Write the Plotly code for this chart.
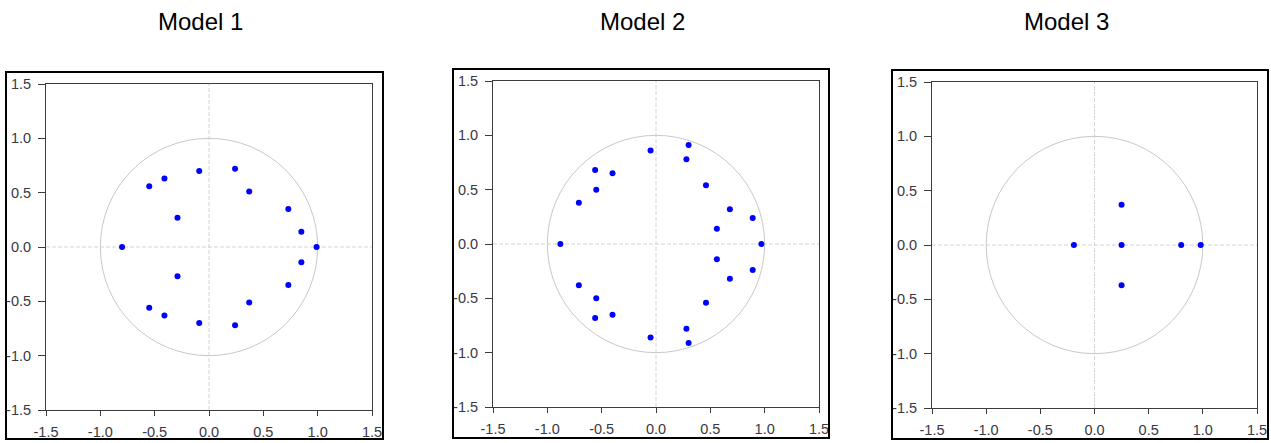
import plotly.graph_objects as go

W, H = 1271, 443

titles = ["Model 1", "Model 2", "Model 3"]

m1_re = [-0.09, 0.24, 0.37, 0.73, 0.85, 0.99, -0.80, -0.55, -0.41, -0.29,
         -0.09, 0.24, 0.37, 0.73, 0.85, -0.55, -0.41, -0.29]
m1_im = [0.70, 0.72, 0.51, 0.35, 0.14, 0.00, 0.00, 0.56, 0.63, 0.27,
         -0.70, -0.72, -0.51, -0.35, -0.14, -0.56, -0.63, -0.27]

m2_re = [-0.05, 0.30, 0.28, 0.46, 0.68, 0.89, 0.56, 0.97, -0.88, -0.71, -0.56, -0.40, -0.55,
         -0.05, 0.30, 0.28, 0.46, 0.68, 0.89, 0.56, -0.71, -0.56, -0.40, -0.55]
m2_im = [0.86, 0.91, 0.78, 0.54, 0.32, 0.24, 0.14, 0.00, 0.00, 0.38, 0.68, 0.65, 0.50,
         -0.86, -0.91, -0.78, -0.54, -0.32, -0.24, -0.14, -0.38, -0.68, -0.65, -0.50]

m3_re = [-0.19, 0.25, 0.25, 0.25, 0.80, 0.98]
m3_im = [0.00, 0.37, 0.00, -0.37, 0.00, 0.00]

tick_vals = [-1.5, -1.0, -0.5, 0.0, 0.5, 1.0, 1.5]
tick_text = ["-1.5", "-1.0", "-0.5", "0.0", "0.5", "1.0", "1.5"]

series = [(m1_re, m1_im), (m2_re, m2_im), (m3_re, m3_im)]

# pixel layout: plot areas (left, right, top, bottom) and outer frames
plot_px = [(46, 372, 84, 410), (493, 819, 81, 407), (932, 1257, 82, 408)]
frame_px = [(6, 383, 72, 439), (453, 829, 69, 438), (892, 1268, 70, 439)]
title_x = [200, 642, 1066]

fig = go.Figure()
shapes = []
annotations = []

for i, (re, im) in enumerate(series):
    n = "" if i == 0 else str(i + 1)
    xa, ya = "x" + n, "y" + n
    fig.add_trace(go.Scatter(
        x=re, y=im, mode="markers", xaxis=xa, yaxis=ya,
        marker=dict(color="#0000ff", size=6, line=dict(width=0)),
        showlegend=False, hoverinfo="x+y"))
    l, r, t, b = plot_px[i]
    axis_common = dict(
        range=[-1.5, 1.5], tickvals=tick_vals, ticktext=tick_text,
        showgrid=False, zeroline=False, showline=True, mirror=True,
        linecolor="#3c3c3c", linewidth=1, ticks="outside",
        tickcolor="#3c3c3c", tickwidth=1, automargin=False,
        tickfont=dict(family="Liberation Sans, Arial", size=14.5, color="#3a3842"),
        fixedrange=True)
    fig.layout["xaxis" + n] = dict(axis_common, domain=[l / W, r / W],
                                   anchor=ya, ticklen=5, ticklabelstandoff=4)
    fig.layout["yaxis" + n] = dict(axis_common, domain=[1 - b / H, 1 - t / H],
                                   anchor=xa, ticklen=7, ticklabelstandoff=4)
    # unit circle
    shapes.append(dict(type="circle", xref=xa, yref=ya, x0=-1, x1=1, y0=-1, y1=1,
                       line=dict(color="#c8c8c8", width=1), layer="below"))
    # dashed zero lines
    shapes.append(dict(type="line", xref=xa + " domain", yref=ya, x0=0, x1=1, y0=0, y1=0,
                       line=dict(color="#d4d4d4", width=1, dash="4px,2px"), layer="below"))
    shapes.append(dict(type="line", xref=xa, yref=ya + " domain", x0=0, x1=0, y0=0, y1=1,
                       line=dict(color="#d4d4d4", width=1, dash="4px,2px"), layer="below"))
    # outer frame
    fl, fr, ft, fb = frame_px[i]
    shapes.append(dict(type="rect", xref="paper", yref="paper",
                       x0=fl / W, x1=fr / W, y0=1 - fb / H, y1=1 - ft / H,
                       line=dict(color="#000000", width=2), layer="above"))
    annotations.append(dict(text=titles[i], xref="paper", yref="paper",
                            x=title_x[i] / W, y=1 - 21.5 / H, xanchor="center", yanchor="middle",
                            showarrow=False,
                            font=dict(family="Liberation Sans, Arial", size=24, color="#000000")))

fig.update_layout(width=W, height=H,
                  margin=dict(l=0, r=0, t=0, b=0, pad=0, autoexpand=False),
                  paper_bgcolor="white", plot_bgcolor="white",
                  shapes=shapes, annotations=annotations)

fig.write_html("out.html", config={"displayModeBar": False},
               post_script="document.body.style.margin='0';document.body.style.overflow='hidden';")
